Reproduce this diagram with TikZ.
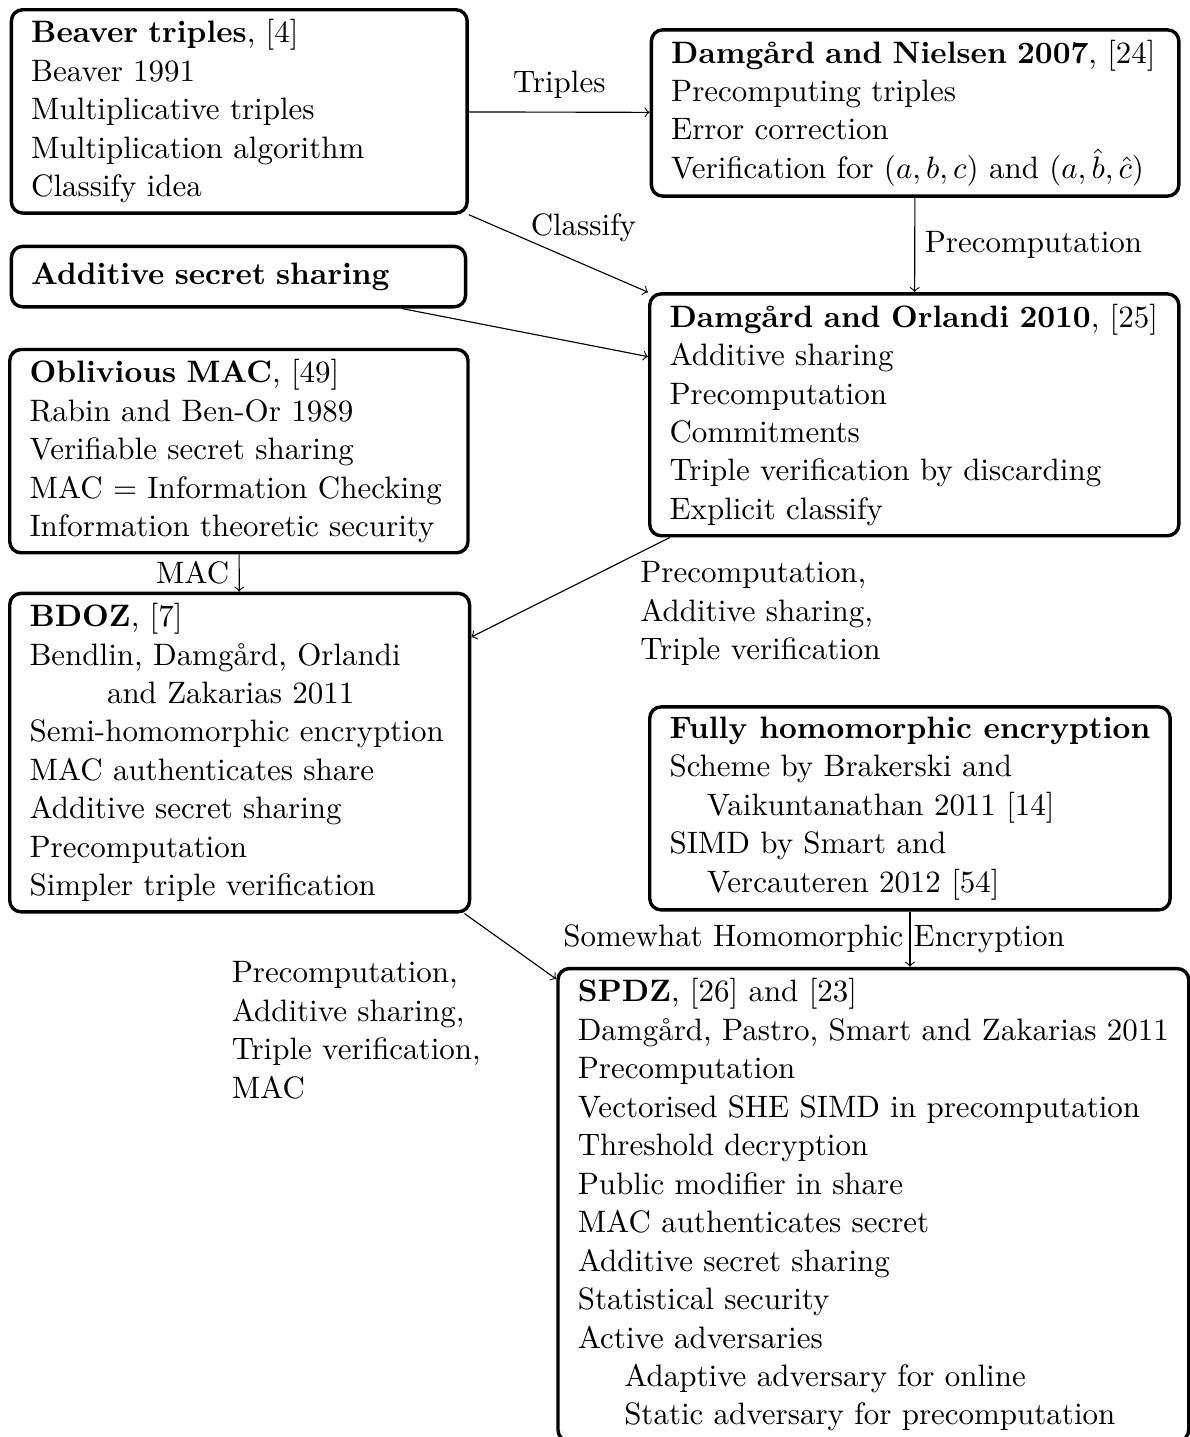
\documentclass[tikz,border=0pt]{standalone}
\usepackage{amsmath}
\usepackage{amssymb}
\usepackage{tikz}

\begin{document}
\begin{tikzpicture}[font=\fontsize{10.95}{13.6}\selectfont,
		box/.style={draw, very thick, rounded corners, anchor=north west, align=left, inner xsep=7pt, inner ysep=3.5pt}]
				\useasboundingbox (0,0) rectangle (14.78,-17.85);
				\node[box, text width=5.17cm] (beaver) at (0.12,-0.10) {\textbf{Beaver triples}, [4]\\ Beaver 1991\\ Multiplicative triples\\ Multiplication algorithm\\ Classify idea};
				\node[box, text width=6.06cm] (nielsen) at (8.07,-0.35) {\textbf{Damg\aa rd and Nielsen 2007}, [24]\\ Precomputing triples\\ Error correction\\ Verification for $(a,b,c)$ and $(a,\hat{b},\hat{c})$};
				\node[box, text width=5.15cm, minimum height=0.75cm] (additive) at (0.12,-3.04) {\textbf{Additive secret sharing}};
				\node[box, text width=6.08cm] (orlandi) at (8.05,-3.63) {\textbf{Damg\aa rd and Orlandi 2010}, [25]\\ Additive sharing\\ Precomputation\\ Commitments\\ Triple verification by discarding\\ Explicit classify};
				\node[box, text width=5.20cm] (oblivious) at (0.10,-4.32) {\textbf{Oblivious MAC}, [49]\\ Rabin and Ben-Or 1989\\ Verifiable secret sharing\\ MAC $=$ Information Checking\\ Information theoretic security};
				\node[box, text width=5.22cm] (bdoz) at (0.10,-7.35) {\textbf{BDOZ}, [7]\\ Bendlin, Damg\aa rd, Orlandi\\ \hspace*{2.5em}and Zakarias 2011\\ Semi-homomorphic encryption\\ MAC authenticates share\\ Additive secret sharing\\ Precomputation\\ Simpler triple verification};
				\node[box] (fhe) at (8.05,-8.76) {\textbf{Fully homomorphic encryption}\\ Scheme by Brakerski and\\ \hspace*{1.2em}Vaikuntanathan 2011 [14]\\ SIMD by Smart and\\ \hspace*{1.2em}Vercauteren 2012 [54]};
				\node[box] (spdz) at (6.91,-12.01) {\textbf{SPDZ}, [26] and [23]\\ Damg\aa rd, Pastro, Smart and Zakarias 2011\\ Precomputation\\ Vectorised SHE SIMD in precomputation\\ Threshold decryption\\ Public modifier in share\\ MAC authenticates secret\\ Additive secret sharing\\ Statistical security\\ Active adversaries\\ \hspace*{1.5em}Adaptive adversary for online\\ \hspace*{1.5em}Static adversary for precomputation};
				\draw[->] (beaver) -- node[above, yshift=0.05cm] {Triples} (nielsen);
				\draw[->] (beaver.south east) -- node[above, xshift=0.31cm, yshift=0.02cm] {Classify} (orlandi.north west);
				\draw[->] (additive) -- ([yshift=-0.8cm]orlandi.north west);
				\draw[->] (nielsen) -- node[right] {Precomputation} (orlandi);
				\draw[->] (oblivious) -- node[left] {MAC} (bdoz);
				\draw[->] (orlandi) -- node[pos=0.2, anchor=north west, yshift=0.07cm, align=left] {Precomputation,\\ Additive sharing,\\ Triple verification} (bdoz);
				\draw[->] (bdoz) -- node[pos=0.4, anchor=north east, xshift=-0.13cm, yshift=-0.15cm, align=left] {Precomputation,\\ Additive sharing,\\ Triple verification,\\ MAC} (spdz);
				\draw[->] (fhe) -- node[midway, xshift=-1.19cm] {Somewhat Homomorphic Encryption} (fhe |- spdz.north);
			\end{tikzpicture}
\end{document}
